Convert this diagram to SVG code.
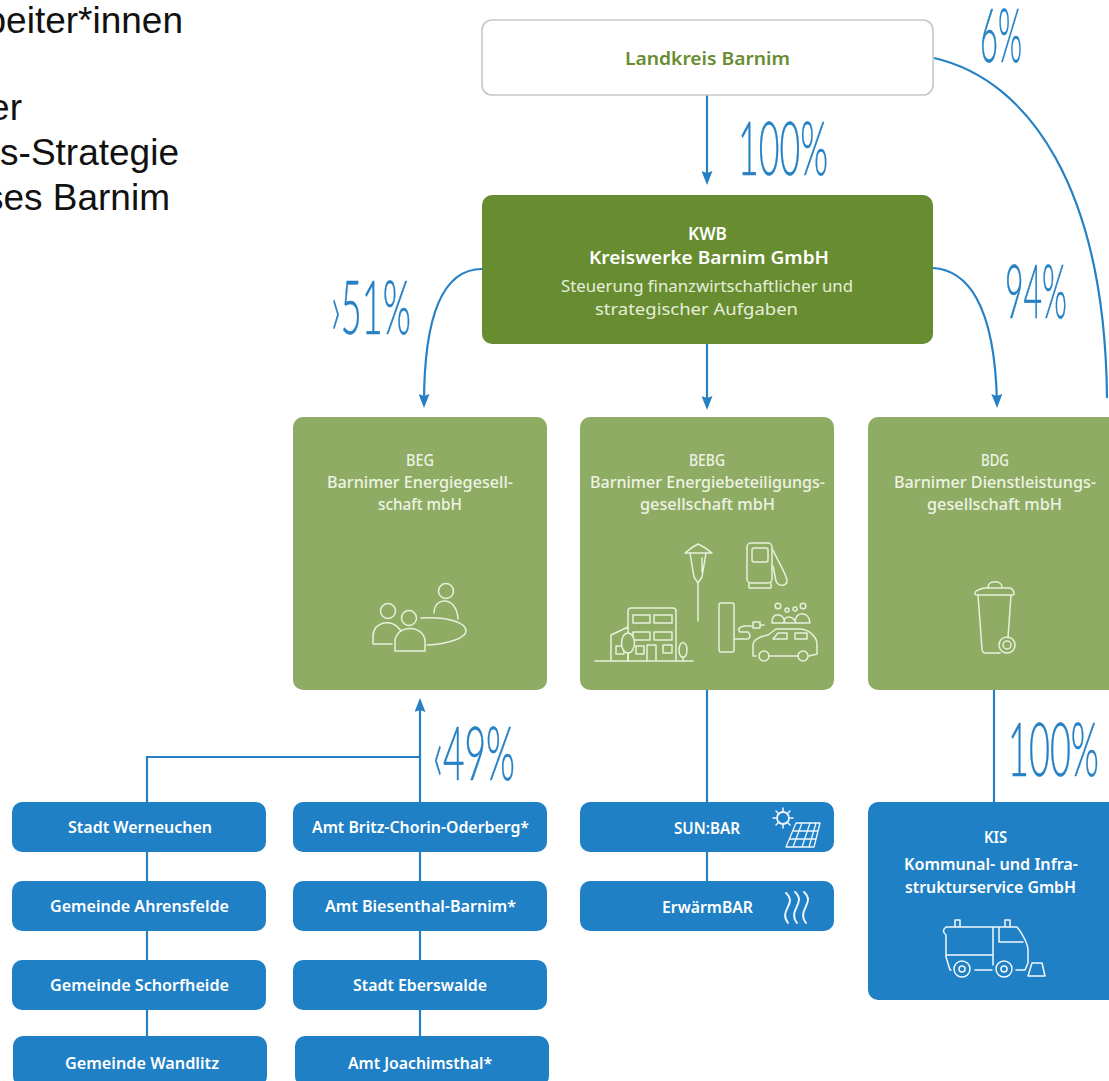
<svg xmlns="http://www.w3.org/2000/svg" width="1109" height="1081" viewBox="0 0 1109 1081">
<style>
.lt{font:37px "Liberation Sans",Arial,sans-serif;fill:#111;text-anchor:end}
.n{font-family:"Noto Sans","Open Sans",sans-serif;font-size:16.500px;font-weight:600;fill:#fff}
.s{font-weight:500;fill:#eef3e4}
.t{font-weight:400;fill:#e6eedb}
.p{font-family:"Lato","Open Sans",sans-serif;font-weight:300;font-size:75px;fill:#2581c4;stroke:#2581c4;stroke-width:.5}
.dg{fill:#678d30}.lg{fill:#8fac64}.bl{fill:#2080c5}
.c{fill:none;stroke:#2581c4;stroke-width:2.2}
.i{fill:none;stroke:#e8efdc;stroke-width:1.5;stroke-linejoin:round;stroke-linecap:round}
.w{stroke:#f2f7fb}
</style>
<defs>
<marker id="a" markerUnits="userSpaceOnUse" markerWidth="14" markerHeight="11" refX="10" refY="5.500" orient="auto" viewBox="0 0 14 11"><path d="M0 0L14 5.500L0 11L2 5.500Z" fill="#2581c4"/></marker>
</defs>
<rect width="1109" height="1081" fill="#fff"/>
<g id="intro">
<text class="lt" x="183" y="33">beiter*innen</text>
<text class="lt" x="22" y="120">er</text>
<text class="lt" x="179" y="165">s-Strategie</text>
<text class="lt" x="170" y="210">ses Barnim</text>
</g>
<g id="connectors">
<path class="c" d="M707 95V181" marker-end="url(#a)"/>
<path class="c" d="M707 344V406" marker-end="url(#a)"/>
<path class="c" d="M482 269C445 269 424 310 424 404" marker-end="url(#a)"/>
<path class="c" d="M933 268C965 270 995 300 997 404" marker-end="url(#a)"/>
<path class="c" d="M934 58C1030 80 1105 190 1107 398"/>
<path class="c" d="M420 802V702" marker-end="url(#a)"/>
<path class="c" d="M420 757H147V802"/>
<path class="c" d="M147 852V881M147 931V960M147 1010V1036"/>
<path class="c" d="M420 852V881M420 931V960M420 1010V1036"/>
<path class="c" d="M707 690V802M707 852V881"/>
<path class="c" d="M994 690V802"/>
</g>
<g id="landkreis"><rect x="482" y="20" width="451" height="75" rx="10" fill="#fff" stroke="#c4cac4" stroke-width="1.600"/><text class="n" x="625" y="65" textLength="165" lengthAdjust="spacingAndGlyphs" style="fill:#678d30;font-size:17px">Landkreis Barnim</text></g>
<g id="kwb"><rect class="dg" x="482" y="195" width="451" height="149" rx="10"/>
<text class="n" x="688" y="240" textLength="39" lengthAdjust="spacingAndGlyphs" style="font-size:17px">KWB</text>
<text class="n" x="589" y="264" textLength="240" lengthAdjust="spacingAndGlyphs" style="font-size:17px">Kreiswerke Barnim GmbH</text>
<text class="n t" x="561" y="292" textLength="292" lengthAdjust="spacingAndGlyphs">Steuerung finanzwirtschaftlicher und</text>
<text class="n t" x="595" y="315" textLength="203" lengthAdjust="spacingAndGlyphs">strategischer Aufgaben</text></g>
<g id="beg"><rect class="lg" x="293" y="417" width="254" height="273" rx="10"/>
<text class="n s" x="406" y="466" textLength="28" lengthAdjust="spacingAndGlyphs">BEG</text>
<text class="n s" x="327" y="488" textLength="186" lengthAdjust="spacingAndGlyphs">Barnimer Energiegesell-</text>
<text class="n s" x="378" y="510" textLength="84" lengthAdjust="spacingAndGlyphs">schaft mbH</text>
<g class="i"><circle cx="446" cy="591" r="7.500"/><path d="M434 613C434 596 457 596 458 619"/><circle cx="388" cy="611" r="7.500"/><path d="M392 644H373V636C373 622 392 617 401 631"/><circle cx="409" cy="618" r="7.500"/><path d="M395 651V642C395 624 425 624 425 642V651Z"/><path d="M421 618C448 616 466 623 466 631C466 638 448 644 427 645"/></g></g>
<g id="bebg"><rect class="lg" x="580" y="417" width="254" height="273" rx="10"/>
<text class="n s" x="689" y="466" textLength="36" lengthAdjust="spacingAndGlyphs">BEBG</text>
<text class="n s" x="590" y="488" textLength="235" lengthAdjust="spacingAndGlyphs">Barnimer Energiebeteiligungs-</text>
<text class="n s" x="640" y="510" textLength="135" lengthAdjust="spacingAndGlyphs">gesellschaft mbH</text>
<g class="i"><path d="M685 553Q692 547 698 544Q705 547 712 553Z M690 553L694 577L698 583L702 577L706 553M698 583V621M702 558V572"/>
<rect x="747" y="543" width="25" height="40" rx="4"/><rect x="752" y="548" width="16" height="14" rx="2"/><path d="M749 583V588H771V583M773 550C778 562 788 576 787 582C785 587 778 586 776 581L773 566"/>
<path d="M595 661H693M611 661V635L628 627M628 661V611Q628 608 631 608H673Q676 608 676 611V661M633 615H650V623H633ZM654 615H672V623H654ZM633 632H650V640H633ZM654 632H672V640H654ZM647 661V645H656V661M663 645H672V653H663ZM616 646H624V654H616ZM636 646H644V654H636Z"/>
<ellipse cx="628" cy="643" rx="6.500" ry="10" fill="#8fac64"/><path d="M628 653V661"/><ellipse cx="683" cy="650" rx="4" ry="7.500"/><path d="M683 657V661"/>
<rect x="719" y="603" width="15" height="49" rx="2"/><path d="M734 639H748Q752 636 748 632H740Q736 628 744 626H753M753 622H760V628H753ZM760 625H764"/>
<path d="M756 656H753V645C753 639 762 636 768 635L776 629H800C808 629 816 636 817 643V654L809 656M769 656H798"/>
<circle cx="764" cy="656" r="5"/><circle cx="803" cy="656" r="5"/><path d="M773 639L778 633H787V639ZM795 633H807V639H795Z"/>
<circle cx="778" cy="606" r="2.800"/><circle cx="787" cy="610" r="2"/><circle cx="795" cy="609" r="2"/><circle cx="803" cy="606" r="2.800"/><path d="M772 623C771 612 784 612 785 623ZM784 623C783 615 793 615 796 623ZM795 621C796 611 809 611 810 623H795"/></g></g>
<g id="bdg"><rect class="lg" x="868" y="417" width="254" height="273" rx="10"/>
<text class="n s" x="981" y="466" textLength="28" lengthAdjust="spacingAndGlyphs">BDG</text>
<text class="n s" x="894" y="488" textLength="202" lengthAdjust="spacingAndGlyphs">Barnimer Dienstleistungs-</text>
<text class="n s" x="927" y="510" textLength="135" lengthAdjust="spacingAndGlyphs">gesellschaft mbH</text>
<g class="i"><path d="M975 593C975 590 980 589 984 588H1010C1014 589 1015 595 1013 595H978C975 595 975 595 975 593ZM988 587C988 580 1002 580 1002 587M978 595L982 649C982 652 984 653 986 653H1000M1011 595L1008 638"/><circle cx="1007" cy="645" r="8"/><circle cx="1007" cy="645" r="4"/></g></g>
<g id="werneuchen"><rect class="bl" x="12" y="802" width="254" height="50" rx="10"/><text class="n" x="68" y="833" textLength="144" lengthAdjust="spacingAndGlyphs">Stadt Werneuchen</text></g>
<g id="ahrensfelde"><rect class="bl" x="12" y="881" width="254" height="50" rx="10"/><text class="n" x="50" y="912" textLength="179" lengthAdjust="spacingAndGlyphs">Gemeinde Ahrensfelde</text></g>
<g id="schorfheide"><rect class="bl" x="12" y="960" width="254" height="50" rx="10"/><text class="n" x="50" y="991" textLength="179" lengthAdjust="spacingAndGlyphs">Gemeinde Schorfheide</text></g>
<g id="wandlitz"><rect class="bl" x="13" y="1036" width="254" height="50" rx="10"/><text class="n" x="65" y="1069" textLength="154" lengthAdjust="spacingAndGlyphs">Gemeinde Wandlitz</text></g>
<g id="britz"><rect class="bl" x="293" y="802" width="254" height="50" rx="10"/><text class="n" x="312" y="833" textLength="217" lengthAdjust="spacingAndGlyphs">Amt Britz-Chorin-Oderberg*</text></g>
<g id="biesenthal"><rect class="bl" x="293" y="881" width="254" height="50" rx="10"/><text class="n" x="325" y="912" textLength="191" lengthAdjust="spacingAndGlyphs">Amt Biesenthal-Barnim*</text></g>
<g id="eberswalde"><rect class="bl" x="293" y="960" width="254" height="50" rx="10"/><text class="n" x="353" y="991" textLength="134" lengthAdjust="spacingAndGlyphs">Stadt Eberswalde</text></g>
<g id="joachimsthal"><rect class="bl" x="295" y="1036" width="254" height="50" rx="10"/><text class="n" x="348" y="1069" textLength="144" lengthAdjust="spacingAndGlyphs">Amt Joachimsthal*</text></g>
<g id="sunbar"><rect class="bl" x="580" y="802" width="254" height="50" rx="10"/><text class="n" x="674" y="834" textLength="66" lengthAdjust="spacingAndGlyphs">SUN:BAR</text>
<g class="i w"><circle cx="783" cy="818" r="6" stroke-width="1.800"/><path d="M783 808V811M783 825V828M773 818H776M790 818H793M776 811L778 813M790 811L788 813M776 825L778 823M790 825L788 823"/><path d="M796 823H820L814 847H786ZM794 831H818M790 839H816M802 823L793 847M810 823L802 847M816 823L809 847" stroke-width="1.300"/></g></g>
<g id="erwaermbar"><rect class="bl" x="580" y="881" width="254" height="50" rx="10"/><text class="n" x="662" y="913" textLength="91" lengthAdjust="spacingAndGlyphs">ErwärmBAR</text>
<g class="i w"><path d="M786 893C798 904 778 910 788 923M795 892C807 903 787 910 797 923M804 892C816 903 796 910 806 923" stroke-width="1.900"/></g></g>
<g id="kis"><rect class="bl" x="868" y="802" width="254" height="198" rx="10"/>
<text class="n" x="984" y="843" textLength="23" lengthAdjust="spacingAndGlyphs">KIS</text>
<text class="n" x="904" y="870" textLength="174" lengthAdjust="spacingAndGlyphs">Kommunal- und Infra-</text>
<text class="n" x="905" y="893" textLength="171" lengthAdjust="spacingAndGlyphs">strukturservice GmbH</text>
<g class="i w"><path d="M946 927H1017C1023 934 1028 945 1028 950V963L1025 970H1016M946 927Q941 931 946 935V957L950 970H951M993 927V965M955 927V920H960V927M1005 927V920H1010V927M999 928V942H1023M946 955H993M975 970H992"/><circle cx="962" cy="969" r="8"/><circle cx="962" cy="969" r="3"/><circle cx="1004" cy="969" r="8"/><circle cx="1004" cy="969" r="3"/><path d="M1028 976H1045L1042 963H1032Z"/></g></g>
<g id="labels">
<text class="p" x="738" y="175" textLength="90" lengthAdjust="spacingAndGlyphs">100%</text>
<text class="p" x="980" y="62" textLength="42" lengthAdjust="spacingAndGlyphs">6%</text>
<text class="p" x="1005" y="318" textLength="62" lengthAdjust="spacingAndGlyphs">94%</text>
<text class="p" x="331" y="334" textLength="80" lengthAdjust="spacingAndGlyphs">›51%</text>
<text class="p" x="433" y="780" textLength="82" lengthAdjust="spacingAndGlyphs">‹49%</text>
<text class="p" x="1008" y="776" textLength="91" lengthAdjust="spacingAndGlyphs">100%</text>
</g>
</svg>
